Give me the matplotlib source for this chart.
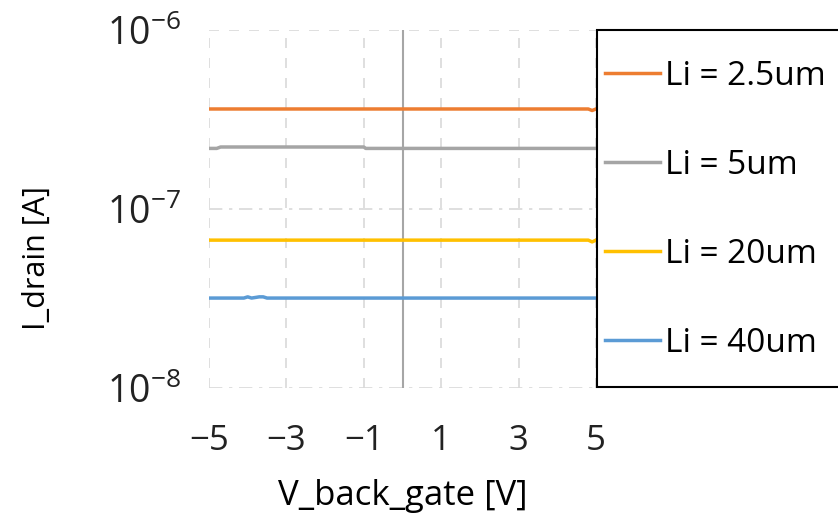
import matplotlib
matplotlib.use("Agg")
import matplotlib.pyplot as plt
from matplotlib.lines import Line2D
from matplotlib.patches import Rectangle

plt.rcParams['font.family'] = ['Open Sans', 'DejaVu Sans']
plt.rcParams['mathtext.fontset'] = 'custom'
plt.rcParams['mathtext.rm'] = 'Open Sans'
plt.rcParams['mathtext.it'] = 'Open Sans:italic'

# Data
vg = [-5.0, -4.8, -4.7, -4.1, -4.0, -3.9, -3.7, -3.6, -3.5, -1.05, -1.0, -0.95, 0.0, 2.0, 4.8, 4.9, 5.0]
i_25 = [3.62e-7, 3.62e-7, 3.62e-7, 3.62e-7, 3.62e-7, 3.62e-7, 3.62e-7, 3.62e-7, 3.62e-7, 3.62e-7, 3.62e-7, 3.62e-7, 3.62e-7, 3.62e-7, 3.62e-7, 3.55e-7, 3.62e-7]
i_5 = [2.18e-7, 2.18e-7, 2.22e-7, 2.22e-7, 2.22e-7, 2.22e-7, 2.22e-7, 2.22e-7, 2.22e-7, 2.22e-7, 2.22e-7, 2.18e-7, 2.18e-7, 2.18e-7, 2.18e-7, 2.18e-7, 2.18e-7]
i_20 = [6.7e-8, 6.7e-8, 6.7e-8, 6.7e-8, 6.7e-8, 6.7e-8, 6.7e-8, 6.7e-8, 6.7e-8, 6.7e-8, 6.7e-8, 6.7e-8, 6.7e-8, 6.7e-8, 6.7e-8, 6.55e-8, 6.7e-8]
i_40 = [3.18e-8, 3.18e-8, 3.18e-8, 3.18e-8, 3.23e-8, 3.18e-8, 3.23e-8, 3.23e-8, 3.18e-8, 3.18e-8, 3.18e-8, 3.18e-8, 3.18e-8, 3.18e-8, 3.18e-8, 3.18e-8, 3.18e-8]
labels = ['Li = 2.5um', 'Li = 5um', 'Li = 20um', 'Li = 40um']
colors = ['#ED7D31', '#A5A5A5', '#FFC000', '#5B9BD5']
series = [i_25, i_5, i_20, i_40]
xticks = [-5, -3, -1, 1, 3, 5]

fig = plt.figure(figsize=(8.38, 5.17), dpi=100)
ax = fig.add_axes([209/838, 1-388/517, (596-209)/838, (388-30)/517])

for x in xticks:
    ax.axvline(x, color='#D9D9D9', lw=1.2, ls=(0, (6, 6)), zorder=0)
ax.axhline(1e-6, color='#D9D9D9', lw=1.2, ls=(0, (6, 6)), zorder=0)
ax.axhline(1e-7, color='#D9D9D9', lw=1.2, ls=(0, (8, 4, 2, 4)), zorder=0)
ax.axhline(1e-8, color='#D9D9D9', lw=1.2, ls=(0, (8, 4, 2, 4)), zorder=0)
ax.axvline(0, color='#A6A6A6', lw=1.5, zorder=1)

for y, c, l in zip(series, colors, labels):
    ax.plot(vg, y, color=c, lw=2.5, label=l, zorder=3)

ax.set_yscale('log')
ax.set_xlim(-5, 5)
ax.set_ylim(1e-8, 1e-6)
ax.set_xticks(xticks)
ax.set_xticklabels(['\u22125', '\u22123', '\u22121', '1', '3', '5'])
ax.set_yticks([1e-8, 1e-7, 1e-6])
ax.set_yticklabels([r'$10^{-8}$', r'$10^{-7}$', r'$10^{-6}$'])
ax.minorticks_off()
ax.tick_params(axis='both', length=0, colors='#222222')
ax.tick_params(axis='x', pad=26, labelsize=25)
ax.tick_params(axis='y', pad=20, labelsize=27)
for s in ax.spines.values():
    s.set_visible(False)

ax.set_xlabel('V_back_gate [V]', fontsize=25)
ax.set_ylabel('I_drain [A]', fontsize=22)
ax.xaxis.set_label_coords(0.5, (1-496/517 - (1-388/517)) / ((388-30)/517), transform=ax.transAxes)
ax.xaxis.label.set_va('center')
ax.yaxis.set_label_coords(37/838, 0.5, transform=fig.transFigure)
ax.yaxis.label.set_va('center')

# legend box
fig.patches.append(Rectangle((597/838, 1-387/517), 0.4, (387-30)/517, transform=fig.transFigure,
                             facecolor='white', edgecolor='black', lw=1.5, zorder=1))
handles = [Line2D([0], [0], color=c, lw=2.5) for c in colors]
leg = fig.legend(handles, labels, loc='upper left', bbox_to_anchor=(605/838, 1-60/517),
                 fontsize=24, frameon=False, handlelength=1.65, handletextpad=0.15,
                 labelspacing=1.68, borderpad=0, borderaxespad=0)
leg.set_zorder(2)

fig.savefig('out.png', dpi=100)
